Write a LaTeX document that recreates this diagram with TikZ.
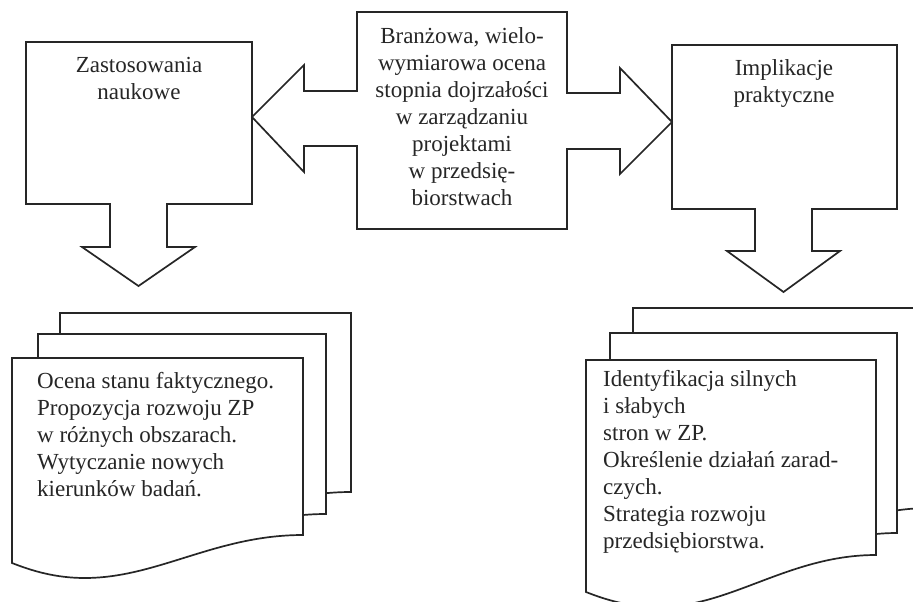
\documentclass[tikz,border=0pt]{standalone}
\usepackage{fontspec}
\setmainfont{Liberation Serif}
\tikzset{
  outline/.style={draw=black!85, line width=1.7pt, line join=miter, fill=white},
  txt/.style={font=\fontsize{23}{27}\selectfont, text=black!85, inner sep=0pt},
}
% document shape: L, R, top, y at bottom-left, y at bottom-right
\newcommand\mydocpath[5]{%
  \pgfmathsetmacro\dw{#2-#1}%
  \draw[outline] (#1,#4) -- (#1,#3) -- (#2,#3) -- (#2,#5)
    .. controls ({#2-0.3*\dw},#5) and ({#1+0.5*\dw},{#4+15}) .. ({#1+0.25*\dw},{#4+15})
    .. controls ({#1+0.15*\dw},{#4+15}) and ({#1+0.07*\dw},{#4+8}) .. (#1,#4) -- cycle;}
\begin{document}
\begin{tikzpicture}[x=1pt,y=-1pt]
\useasboundingbox (0,0) rectangle (913,602);
\clip (0,0) rectangle (913,602);
\fill[white] (0,0) rectangle (913,602);

% left callout with down arrow
\draw[outline] (26,42) -- (252,42) -- (252,204) -- (167,204) -- (167,247) -- (195,247)
  -- (138.5,286) -- (82,247) -- (110,247) -- (110,204) -- (26,204) -- cycle;
\node[txt, align=center] (zast) at (139,78) {Zastosowania\\naukowe};

% right callout with down arrow
\draw[outline] (672,45) -- (897,45) -- (897,209) -- (812,209) -- (812,251) -- (840,251)
  -- (783.5,292) -- (727,251) -- (755,251) -- (755,209) -- (672,209) -- cycle;
\node[txt, align=center] (impl) at (784,84) {Implikacje\\praktyczne};

% central double arrow
\draw[outline] (357,12) -- (567,12) -- (567,93) -- (620,93) -- (620,68) -- (672,122)
  -- (620,174) -- (620,149) -- (567,149) -- (567,229) -- (357,229) -- (357,146)
  -- (304,146) -- (304,172) -- (252,117) -- (304,65) -- (304,91) -- (357,91) -- cycle;
\node[txt, align=center] (centre) at (462,117) {Branżowa, wielo-\\wymiarowa ocena\\stopnia dojrzałości\\w zarządzaniu\\projektami\\w przedsię-\\biorstwach};

% left document stack
\mydocpath{60}{351}{313}{520}{492}
\mydocpath{38}{326}{334}{542}{514}
\mydocpath{12}{303}{358}{563}{535}
\node[txt, align=left, anchor=west] (docl) at (37,435) {Ocena stanu faktycznego.\\Propozycja rozwoju ZP\\w różnych obszarach.\\Wytyczanie nowych\\kierunków badań.};

% right document stack
\mydocpath{633}{930}{308}{545}{508}
\mydocpath{610}{897}{333}{570}{533}
\mydocpath{586}{876}{360}{592}{555}
\node[txt, align=left, anchor=west] (docr) at (603,462) {Identyfikacja silnych\\i słabych\\stron w ZP.\\Określenie działań zarad-\\czych.\\Strategia rozwoju\\przedsiębiorstwa.};
\end{tikzpicture}
\end{document}
